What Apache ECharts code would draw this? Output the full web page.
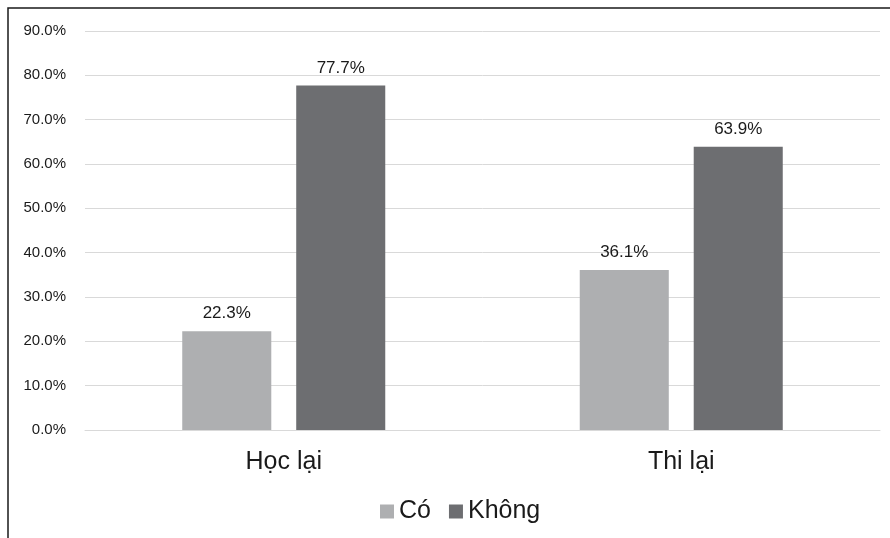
<!DOCTYPE html>
<html>
<head>
<meta charset="utf-8">
<script src="https://cdn.jsdelivr.net/npm/echarts@6/dist/echarts.min.js"></script>
<style>
  html, body { margin: 0; padding: 0; background: #ffffff; }
  #chart { width: 890px; height: 538px; }
</style>
</head>
<body>
<div id="chart"></div>
<script>
// Categories and series values (percent)
const categories = ['Học lại', 'Thi lại'];
const seriesNames = ['Có', 'Không'];
const coValues = [22.3, 36.1];
const khongValues = [77.7, 63.9];
const seriesColors = ['#AEAFB1', '#6D6E71'];

const chart = echarts.init(document.getElementById('chart'));

const labelFont = 'Helvetica, "Liberation Sans", Arial, sans-serif';

const valueLabel = {
  show: true, position: 'top', distance: 9,
  fontFamily: labelFont, fontSize: 17, color: '#1a1a1a',
  formatter: p => p.value.toFixed(1) + '%'
};

chart.setOption({
  animation: false,
  backgroundColor: '#ffffff',
  graphic: [{
    type: 'rect',
    x: 0, y: 0,
    shape: { x: 8, y: 8, width: 1000, height: 1000 },
    style: { fill: 'none', stroke: '#1a1a1a', lineWidth: 1.5 },
    silent: true
  }],
  grid: { left: 85, right: 10, top: 31, bottom: 108, containLabel: false },
  legend: {
    top: 499,
    left: 380,
    padding: 0,
    itemWidth: 14,
    itemHeight: 14,
    itemGap: 18,
    icon: 'rect',
    textStyle: { fontFamily: labelFont, fontSize: 25, color: '#1a1a1a' },
    data: seriesNames
  },
  xAxis: {
    type: 'category',
    data: categories,
    axisLine: { show: true, lineStyle: { color: '#d9d9d9', width: 1 } },
    axisTick: { show: false },
    axisLabel: { fontFamily: labelFont, fontSize: 25, color: '#1a1a1a', margin: 20 }
  },
  yAxis: {
    type: 'value',
    min: 0, max: 90, interval: 10,
    axisLine: { show: false },
    axisTick: { show: false },
    splitLine: { lineStyle: { color: '#d9d9d9', width: 1 } },
    axisLabel: {
      fontFamily: '"Liberation Sans", Arial, sans-serif',
      fontSize: 15, color: '#1a1a1a', margin: 19,
      formatter: v => v.toFixed(1) + '%'
    }
  },
  series: [
    {
      name: seriesNames[0], type: 'bar', data: coValues,
      barWidth: '22.4%', barGap: '28%',
      itemStyle: { color: seriesColors[0] },
      label: valueLabel
    },
    {
      name: seriesNames[1], type: 'bar', data: khongValues,
      barWidth: '22.4%', barGap: '28%',
      itemStyle: { color: seriesColors[1] },
      label: valueLabel
    }
  ]
});
</script>
</body>
</html>
